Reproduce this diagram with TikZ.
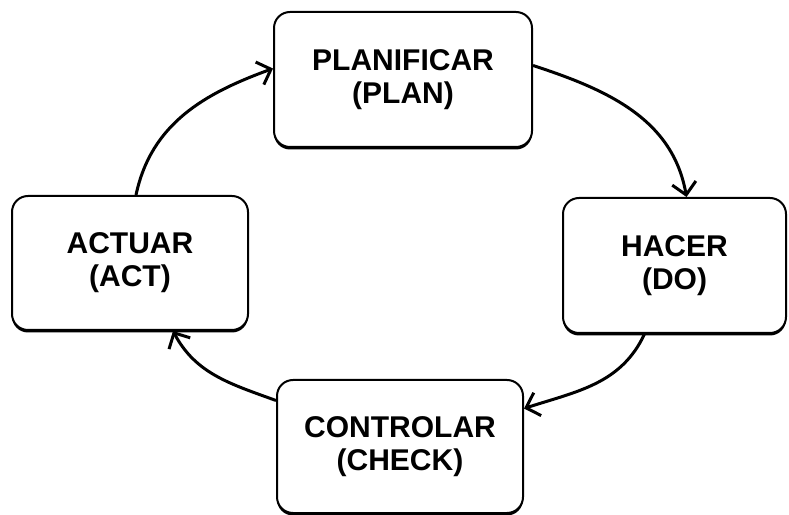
\documentclass[tikz,border=0pt]{standalone}
\usepackage{fontspec}
\setmainfont{Liberation Sans}
\usetikzlibrary{positioning,arrows.meta,shadows}

\begin{document}
\begin{tikzpicture}[->,>={Straight Barb[length=12pt,width=24pt]},x=1pt,y=1pt,
			line width=3pt,main node/.style={draw, rectangle, rounded corners=16pt, align=center,
			line width=2pt, fill=white, font=\fontsize{30}{33}\selectfont\bfseries,
			drop shadow={shadow xshift=0pt,shadow yshift=-2.5pt,fill=black,opacity=1}}]

			\useasboundingbox (0,0) rectangle (789,514);

			\node[main node,minimum width=258pt,minimum height=135pt] (1) at (403,434.5) {PLANIFICAR\\(PLAN)};
			\node[main node,minimum width=223pt,minimum height=135pt] (2) at (674.5,248.5) {HACER\\(DO)};
			\node[main node,minimum width=246pt,minimum height=133pt] (3) at (400,67.5) {CONTROLAR\\(CHECK)};
			\node[main node,minimum width=236pt,minimum height=134pt] (4) at (130,251) {ACTUAR\\(ACT)};

			\draw ([xshift=6pt]4.north) to[out=78, in=200,looseness=1] ([yshift=11pt]1.west);
			\draw ([yshift=14pt]1.east) to[out=-18, in=100,looseness=1] ([xshift=12pt]2.north);
			\draw ([xshift=-30pt]2.south) to[out=-115, in=18,looseness=1] ([yshift=38pt]3.east);
			\draw ([yshift=46pt]3.west) to[out=160, in=-62,looseness=1] ([xshift=43pt]4.south);

		\end{tikzpicture}
\end{document}
